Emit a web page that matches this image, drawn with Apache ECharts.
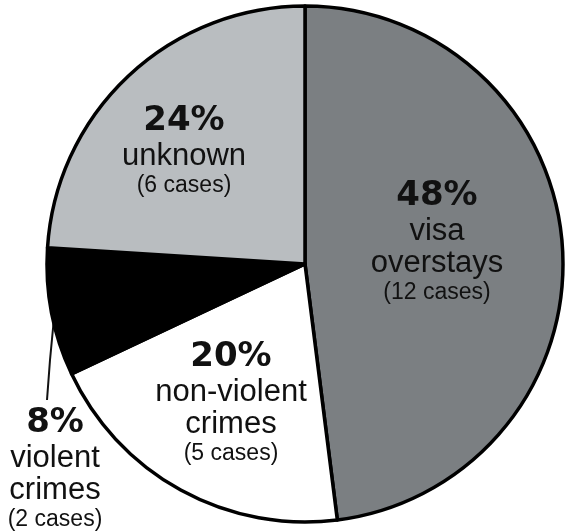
<!DOCTYPE html>
<html>
<head>
<meta charset="utf-8">
<script src="https://cdn.jsdelivr.net/npm/echarts@6/dist/echarts.min.js"></script>
<style>
html,body{margin:0;padding:0;background:#fff;}
#chart{width:569px;height:531px;}
</style>
</head>
<body>
<div id="chart"></div>
<script>
// Data
const categories = ['visa overstays', 'non-violent crimes', 'violent crimes', 'unknown'];
const cases = [12, 5, 2, 6];
const percents = [48, 20, 8, 24];
const nameLines = [['visa', 'overstays'], ['non-violent', 'crimes'], ['violent', 'crimes'], ['unknown']];

const colors = ['#7b7f82', '#ffffff', '#000000', '#b9bdc0'];
const labelCenters = [[437, 242], [231, 403], [55, 469], [184, 151]];

const chart = echarts.init(document.getElementById('chart'), null, {renderer: 'canvas'});

const data = categories.map((c, i) => ({
  name: c,
  value: cases[i],
  itemStyle: {color: colors[i]},
  label: i === 2 ? {position: 'outside'} : {position: 'inside'},
  labelLine: {show: i === 2, lineStyle: {color: '#111', width: 2}}
}));

chart.setOption({
  animation: false,
  backgroundColor: '#ffffff',
  series: [{
    type: 'pie',
    center: [305, 264],
    radius: [0, 258],
    startAngle: 90,
    clockwise: true,
    avoidLabelOverlap: false,
    itemStyle: {borderColor: '#000', borderWidth: 3.5},
    emphasis: {disabled: true},
    label: {
      show: true,
      color: '#111',
      formatter: function (p) {
        const i = p.dataIndex;
        let s = '{p|' + percents[i] + '%}';
        nameLines[i].forEach(l => { s += '\n{n|' + l + '}'; });
        s += '\n{c|(' + cases[i] + ' cases)}';
        return s;
      },
      rich: {
        p: {fontFamily: 'DejaVu Sans', fontWeight: 'bold', fontSize: 34, lineHeight: 38, color: '#111', align: 'center'},
        n: {fontFamily: 'Liberation Sans', fontSize: 31, lineHeight: 32, color: '#111', align: 'center'},
        c: {fontFamily: 'Liberation Sans', fontSize: 23, lineHeight: 28, color: '#111', align: 'center'}
      }
    },
    labelLayout: function (params) {
      const i = params.dataIndex;
      const pos = labelCenters[i];
      const out = {x: pos[0], y: pos[1], align: 'center', verticalAlign: 'middle'};
      if (i === 2) {
        out.labelLinePoints = [[54, 318], [50, 360], [47, 400]];
      }
      return out;
    },
    data: data
  }]
});
</script>
</body>
</html>
